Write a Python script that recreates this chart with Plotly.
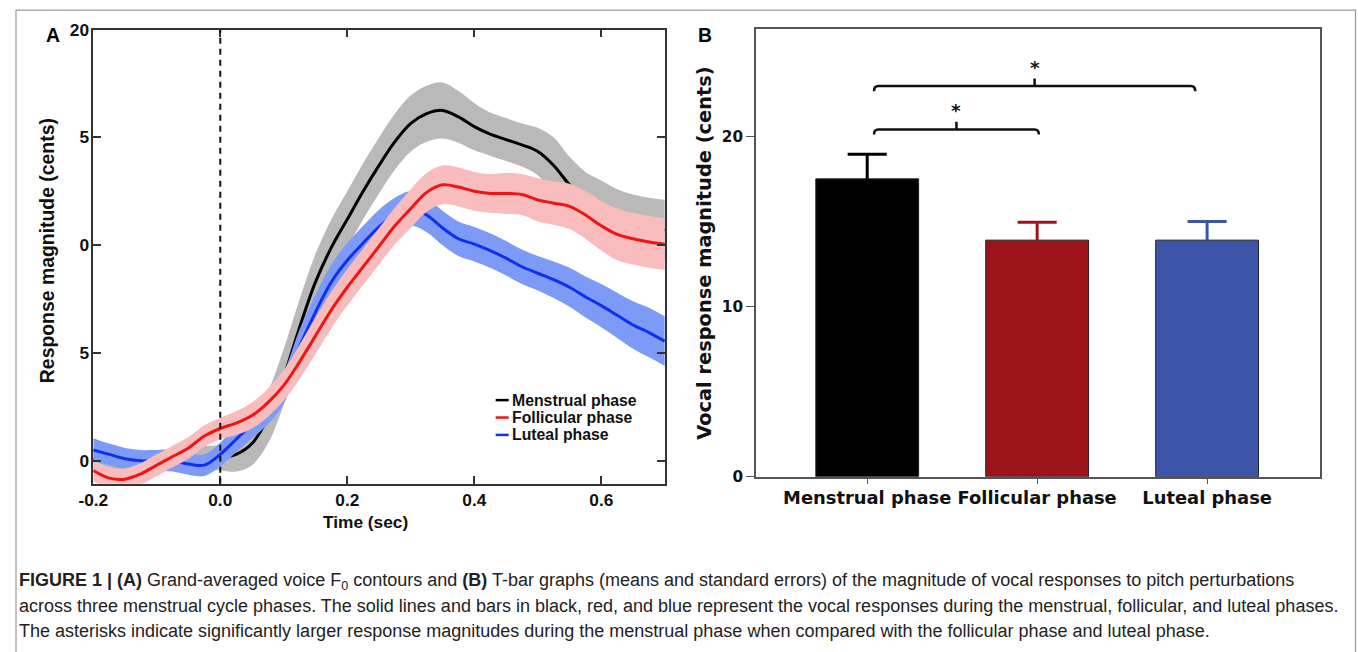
import plotly.graph_objects as go

# ---------------- data ----------------
time_s = [-0.2, -0.175, -0.15, -0.125, -0.1, -0.075, -0.05, -0.025, 0.0, 0.025, 0.05, 0.075,
          0.1, 0.125, 0.15, 0.175, 0.2, 0.225, 0.25, 0.275, 0.3, 0.325, 0.35, 0.375, 0.4,
          0.425, 0.45, 0.475, 0.5, 0.525, 0.55, 0.575, 0.6, 0.625, 0.65, 0.675, 0.7]

menstrual_mean = [0.1, 0.0, -0.05, 0.0, 0.05, 0.1, 0.15, 0.15, 0.15, 0.3, 0.8, 2.0,
                  3.9, 6.2, 8.3, 9.9, 11.2, 12.5, 13.7, 14.8, 15.65, 16.1, 16.25, 15.95, 15.5,
                  15.15, 14.9, 14.65, 14.35, 13.7, 12.8, 12.1, 11.6, 11.2, 10.95, 10.8, 10.7]
menstrual_se = [0.45, 0.45, 0.45, 0.45, 0.45, 0.45, 0.5, 0.55, 0.6, 0.8, 1.0, 1.2,
                1.3, 1.3, 1.3, 1.3, 1.3, 1.3, 1.3, 1.3, 1.3, 1.3, 1.3, 1.2, 1.1,
                1.0, 1.0, 1.0, 1.1, 1.3, 1.3, 1.3, 1.4, 1.4, 1.4, 1.4, 1.4]

follicular_mean = [-0.45, -0.8, -0.85, -0.6, -0.2, 0.2, 0.6, 1.15, 1.5, 1.75, 2.1, 2.7,
                   3.5, 4.6, 5.8, 7.0, 8.05, 9.0, 9.95, 10.9, 11.7, 12.45, 12.8, 12.7, 12.5,
                   12.4, 12.4, 12.35, 12.1, 11.95, 11.8, 11.4, 10.9, 10.5, 10.3, 10.15, 10.05]
follicular_se = [0.5, 0.5, 0.5, 0.5, 0.5, 0.5, 0.5, 0.5, 0.5, 0.55, 0.6, 0.65,
                 0.7, 0.8, 0.85, 0.85, 0.85, 0.85, 0.85, 0.85, 0.9, 0.9, 0.9, 0.9, 0.9,
                 0.9, 0.95, 0.95, 1.0, 1.0, 1.05, 1.1, 1.15, 1.2, 1.2, 1.2, 1.2]

luteal_mean = [0.5, 0.3, 0.1, 0.0, 0.0, 0.0, -0.15, -0.2, 0.3, 1.0, 1.7, 2.4,
               3.4, 5.3, 6.9, 8.3, 9.3, 10.1, 10.85, 11.4, 11.7, 11.4, 10.8, 10.3, 10.05,
               9.75, 9.4, 9.0, 8.7, 8.4, 8.05, 7.6, 7.2, 6.75, 6.3, 5.95, 5.55]
luteal_se = [0.55, 0.5, 0.5, 0.5, 0.5, 0.5, 0.5, 0.5, 0.55, 0.6, 0.65, 0.7,
             0.75, 0.8, 0.8, 0.8, 0.8, 0.8, 0.8, 0.8, 0.8, 0.8, 0.8, 0.8, 0.8,
             0.8, 0.8, 0.8, 0.8, 0.85, 0.9, 0.95, 1.0, 1.05, 1.1, 1.15, 1.15]

ya_tickvals = [0, 5, 10, 15, 20]
ya_ticktext = ["0", "5", "0", "5", "20"]
xa_tickvals = [-0.2, 0.0, 0.2, 0.4, 0.6]
xa_ticktext = ["-0.2", "0.0", "0.2", "0.4", "0.6"]

phases = ["Menstrual phase", "Follicular phase", "Luteal phase"]
bar_means = [17.5, 13.9, 13.9]
bar_se = [1.45, 1.05, 1.1]
bar_colors = ["#000000", "#9c1419", "#3d55a8"]
yb_tickvals = [0, 10, 20]

# significance brackets (from bar position, to bar position, level)
sig_from = [0.04, 0.04]
sig_to = [1.01, 1.93]
sig_level = [20.4, 22.95]

# Page placement compensation (page offset and rescale of the captured page)
W, H = 1358, 652
OFFX, OFFY = 16, 8
SX, SY = 0.988, 0.976
FS = 1.02  # font compensation for the rescale


def px(x):
    return (x / SX - OFFX) / W


def py(y):
    return 1 - (y / SY - OFFY) / H


def fs(s):
    return round(s * FS, 1)


fig = go.Figure()

# ---------------- Panel A ----------------
series = [
    (menstrual_mean, menstrual_se, "#b9b9b9", "#000000", "Menstrual phase"),
    (luteal_mean, luteal_se, "#7d9bf6", "#1030f0", "Luteal phase"),
    (follicular_mean, follicular_se, "#f9bcbc", "#f01414", "Follicular phase"),
]
for mean, se, band, col, name in series:
    lo = [m - s for m, s in zip(mean, se)]
    hi = [m + s for m, s in zip(mean, se)]
    fig.add_trace(go.Scatter(x=time_s, y=lo, mode="lines", line=dict(width=0, shape="spline"),
                             hoverinfo="skip", showlegend=False, xaxis="x", yaxis="y"))
    fig.add_trace(go.Scatter(x=time_s, y=hi, mode="lines", line=dict(width=0, shape="spline"),
                             fill="tonexty", fillcolor=band, hoverinfo="skip",
                             showlegend=False, xaxis="x", yaxis="y"))
    fig.add_trace(go.Scatter(x=time_s, y=mean, mode="lines", name=name,
                             line=dict(color=col, width=3, shape="spline"),
                             showlegend=False, xaxis="x", yaxis="y"))

# ---------------- Panel B ----------------
fig.add_trace(go.Bar(
    x=list(range(len(phases))), y=bar_means, width=0.605,
    marker=dict(color=bar_colors, line=dict(color="#222222", width=1)),
    showlegend=False, xaxis="x2", yaxis="y2"))

# upper-only T bars in each bar's colour
cap_half = 0.115
for i in range(len(phases)):
    top = bar_means[i] + bar_se[i]
    fig.add_trace(go.Scatter(
        x=[i, i, None, i - cap_half, i + cap_half],
        y=[bar_means[i], top, None, top, top],
        mode="lines", line=dict(color=bar_colors[i], width=3),
        showlegend=False, hoverinfo="skip", xaxis="x2", yaxis="y2"))

shapes = []
# dashed onset line
shapes.append(dict(type="line", xref="x", yref="y", x0=0, x1=0, y0=-1.06, y1=20,
                   line=dict(color="#111111", width=2, dash="6px,5px")))

# brackets
annotations = []
for a, b, lev in zip(sig_from, sig_to, sig_level):
    mid = (a + b) / 2
    hook = 0.3
    r = 0.025
    path = (f"M {a},{lev - hook} Q {a},{lev} {a + r},{lev} L {b - r},{lev} "
            f"Q {b},{lev} {b},{lev - hook}")
    shapes.append(dict(type="path", xref="x2", yref="y2", path=path,
                       line=dict(color="#111111", width=2.5)))
    shapes.append(dict(type="line", xref="x2", yref="y2", x0=mid, x1=mid, y0=lev, y1=lev + 0.45,
                       line=dict(color="#111111", width=2.5)))
    annotations.append(dict(x=mid, y=lev + 1.1, xref="x2", yref="y2", text="*", showarrow=False,
                            xanchor="center", yanchor="middle",
                            font=dict(family="DejaVu Sans", size=fs(18), color="#111111",
                                      weight="bold")))

# figure border
shapes.append(dict(type="rect", xref="paper", yref="paper", x0=max(px(7), 1.0 / W), x1=px(1355),
                   y0=-0.05, y1=py(8), line=dict(color="#9a9a9a", width=1.2)))

# manual legend in panel A
leg_names = ["Menstrual phase", "Follicular phase", "Luteal phase"]
leg_cols = ["#000000", "#f01414", "#1030f0"]
for k, (nm, c) in enumerate(zip(leg_names, leg_cols)):
    yy = 400 + k * 17.5
    shapes.append(dict(type="line", xref="paper", yref="paper", x0=px(496), x1=px(509),
                       y0=py(yy), y1=py(yy), line=dict(color=c, width=2.5)))
    annotations.append(dict(x=px(510), y=py(yy), xref="paper", yref="paper", text=nm,
                            showarrow=False, xanchor="left", yanchor="middle",
                            font=dict(family="Liberation Sans, Arial", size=fs(15.5),
                                      color="#111111", weight="bold")))

# axis titles and panel labels
annotations += [
    dict(x=px(48), y=py(250), xref="paper", yref="paper", text="Response magnitude (cents)",
         textangle=-90, showarrow=False, xanchor="center", yanchor="middle",
         font=dict(family="Liberation Sans, Arial", size=fs(19), color="#111111", weight="bold")),
    dict(x=px(366), y=py(523), xref="paper", yref="paper", text="Time (sec)", showarrow=False,
         xanchor="center", yanchor="middle",
         font=dict(family="Liberation Sans, Arial", size=fs(17), color="#111111", weight="bold")),
    dict(x=px(705), y=py(252), xref="paper", yref="paper", text="Vocal response magnitude (cents)",
         textangle=-90, showarrow=False, xanchor="center", yanchor="middle",
         font=dict(family="DejaVu Sans", size=fs(19), color="#111111", weight="bold")),
    dict(x=px(54), y=py(33), xref="paper", yref="paper", text="A", showarrow=False,
         xanchor="center", yanchor="middle",
         font=dict(family="Liberation Sans, Arial", size=fs(19), color="#000000", weight="bold")),
    dict(x=px(705), y=py(33), xref="paper", yref="paper", text="B", showarrow=False,
         xanchor="center", yanchor="middle",
         font=dict(family="Liberation Sans, Arial", size=fs(19), color="#000000", weight="bold")),
]

# caption
cap_font = dict(family="Liberation Sans, Arial", size=18, color="#222222")
captions = [
    "<b>FIGURE 1 | (A)</b> Grand-averaged voice F<sub>0</sub> contours and <b>(B)</b> T-bar graphs "
    "(means and standard errors) of the magnitude of vocal responses to pitch perturbations",
    "across three menstrual cycle phases. The solid lines and bars in black, red, and blue represent "
    "the vocal responses during the menstrual, follicular, and luteal phases.",
    "The asterisks indicate significantly larger response magnitudes during the menstrual phase "
    "when compared with the follicular phase and luteal phase.",
]
for k, t in enumerate(captions):
    annotations.append(dict(x=px(18), y=py(582 + 25 * k), xref="paper", yref="paper", text=t,
                            showarrow=False, xanchor="left", yanchor="middle", font=cap_font))

axis_font_a = dict(family="Liberation Sans, Arial", size=fs(17), color="#111111", weight="bold")
axis_font_b = dict(family="DejaVu Sans", size=fs(15), color="#111111", weight="bold")

fig.update_layout(
    width=W, height=H, margin=dict(l=0, r=0, t=0, b=0),
    paper_bgcolor="white", plot_bgcolor="white",
    xaxis=dict(domain=[px(94), px(665)], range=[-0.2, 0.7], tickvals=xa_tickvals,
               ticktext=xa_ticktext, ticks="inside", ticklen=8, tickwidth=1.5, tickcolor="#333333",
               showline=True, linecolor="#333333", linewidth=1.5, mirror="allticks",
               showgrid=False, zeroline=False, tickfont=axis_font_a, ticklabelstandoff=0,
               anchor="y"),
    yaxis=dict(domain=[py(484), py(27.5)], range=[-1.06, 20], tickvals=ya_tickvals,
               ticktext=ya_ticktext, ticks="inside", ticklen=8, tickwidth=1.5, tickcolor="#333333",
               showline=True, linecolor="#333333", linewidth=1.5, mirror="allticks",
               showgrid=False, zeroline=False, tickfont=axis_font_a, ticklabelstandoff=-1,
               anchor="x"),
    xaxis2=dict(domain=[px(756), px(1320)], range=[-0.655, 2.667], tickvals=[0, 1, 2],
                ticktext=phases, ticks="outside", ticklen=6, tickwidth=1.2, tickcolor="#555555",
                showline=True, linecolor="#555555", linewidth=1.5, mirror=True,
                showgrid=False, zeroline=False, ticklabelstandoff=-2,
                tickfont=dict(family="DejaVu Sans", size=fs(17.5), color="#111111", weight="bold"),
                anchor="y2"),
    yaxis2=dict(domain=[py(477), py(26.5)], range=[0, 26.33], tickvals=yb_tickvals,
                ticks="outside", ticklen=8, tickwidth=1.2, tickcolor="#555555",
                showline=True, linecolor="#555555", linewidth=1.5, mirror=True,
                showgrid=False, zeroline=False, tickfont=axis_font_b, anchor="x2"),
    shapes=shapes, annotations=annotations,
)

fig.write_html("out.html")
